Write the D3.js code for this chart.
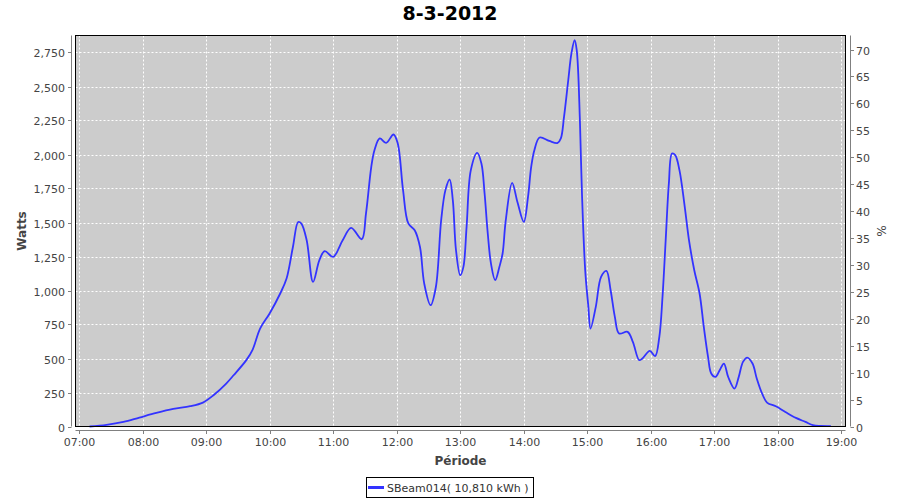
<!DOCTYPE html>
<html><head><meta charset="utf-8">
<script src="https://cdn.jsdelivr.net/npm/d3@7"></script>
<style>body{margin:0;background:#fff}svg{display:block}text{font-family:"DejaVu Sans",sans-serif}</style>
</head><body><svg id="c" width="900" height="500"></svg>
<script>
const title = "8-3-2012";
const seriesName = "SBeam014( 10,810 kWh )";
const times = ["07:10","07:26","07:42","07:57","08:13","08:29","08:45","08:57","09:07","09:19","09:26","09:38","09:44","09:51","10:00","10:10","10:16","10:22","10:27","10:30","10:35","10:41","10:47","10:52","11:00","11:09","11:17","11:27","11:31","11:36","11:39","11:44","11:50","11:57","12:01","12:06","12:11","12:17","12:22","12:26","12:32","12:37","12:42","12:46","12:50","12:53","12:56","13:00","13:03","13:06","13:10","13:16","13:20","13:23","13:26","13:29","13:33","13:37","13:40","13:43","13:49","13:54","14:00","14:04","14:07","14:10","14:15","14:24","14:32","14:35","14:38","14:42","14:45","14:48","14:50","14:53","14:55","14:58","15:01","15:03","15:08","15:13","15:18","15:22","15:26","15:30","15:38","15:43","15:49","15:52","15:59","16:04","16:08","16:11","16:14","16:17","16:20","16:23","16:27","16:32","16:36","16:41","16:46","16:50","16:54","16:57","17:01","17:05","17:09","17:13","17:19","17:23","17:27","17:31","17:36","17:40","17:45","17:50","17:58","18:07","18:17","18:26","18:33","18:40","18:50"];
const watts = [0,12,34,66,100,129,149,176,230,316,377,488,566,720,831,978,1088,1320,1504,1492,1370,1063,1223,1289,1247,1370,1460,1377,1566,1909,2032,2118,2085,2147,2081,1738,1493,1443,1320,1051,892,1026,1517,1738,1816,1664,1296,1112,1174,1468,1885,2012,1934,1713,1419,1199,1076,1174,1272,1517,1791,1651,1504,1688,1909,2032,2125,2100,2085,2118,2276,2546,2743,2840,2767,2252,1700,1150,880,720,880,1100,1144,1002,806,684,696,622,488,500,556,517,659,953,1370,1787,2007,1995,1885,1615,1370,1149,978,732,512,390,365,414,463,365,279,365,475,507,463,353,243,174,149,107,63,34,10,4,3];
const xTickLabels = ["07:00","08:00","09:00","10:00","11:00","12:00","13:00","14:00","15:00","16:00","17:00","18:00","19:00"];
const wattTicks = [0,250,500,750,1000,1250,1500,1750,2000,2250,2500,2750];
const pctTicks = [0,5,10,15,20,25,30,35,40,45,50,55,60,65,70];

const toMin = s => { const [h,m] = s.split(":").map(Number); return h*60+m; };
const data = times.map((t,i)=>({t:toMin(t), w:watts[i]}));

const L=75.5, R=845.5, T=35.5, B=426.5;
const x = d3.scaleLinear().domain([416.7,1143.8]).range([L,R]);
const y = d3.scaleLinear().domain([0,2875]).range([B,T]);
const yp = d3.scaleLinear().domain([0,72.6]).range([B,T]);
const svg = d3.select("#c");
const fmt = d3.format(",");

svg.append("text").attr("x",450).attr("y",20).attr("text-anchor","middle")
  .attr("font-size",19).attr("font-weight","bold").attr("fill","#000").text(title);

svg.append("rect").attr("x",L).attr("y",T).attr("width",R-L).attr("height",B-T).attr("fill","#cccccc");

const grid = svg.append("g").attr("stroke","#fff").attr("stroke-width",1).attr("stroke-dasharray","2,2");
xTickLabels.forEach(s=>{ const px=Math.round(x(toMin(s)))+0.5;
  grid.append("line").attr("x1",px).attr("x2",px).attr("y1",T).attr("y2",B);});
wattTicks.forEach(v=>{ const py=Math.round(y(v))+0.5;
  grid.append("line").attr("x1",L).attr("x2",R).attr("y1",py).attr("y2",py);});

const line = d3.line().x(d=>x(d.t)).y(d=>y(d.w)).curve(d3.curveCatmullRom.alpha(0.5));
svg.append("path").datum(data).attr("d",line).attr("fill","none").attr("stroke","#3333ff").attr("stroke-width",1.8);

svg.append("rect").attr("x",L).attr("y",T).attr("width",R-L).attr("height",B-T).attr("fill","none").attr("stroke","#000");

const axCol="#808080", lblCol="#444";
const la = svg.append("g");
la.append("line").attr("x1",71.5).attr("x2",71.5).attr("y1",T).attr("y2",B).attr("stroke",axCol);
wattTicks.forEach(v=>{ const py=Math.round(y(v))+0.5;
  la.append("line").attr("x1",68).attr("x2",71.5).attr("y1",py).attr("y2",py).attr("stroke",axCol);
  la.append("text").attr("x",65).attr("y",py+4).attr("text-anchor","end").attr("font-size",11).attr("fill",lblCol).text(fmt(v));
});
const ra = svg.append("g");
ra.append("line").attr("x1",850.5).attr("x2",850.5).attr("y1",T).attr("y2",B).attr("stroke",axCol);
pctTicks.forEach(v=>{ const py=Math.round(yp(v))+0.5;
  ra.append("line").attr("x1",850.5).attr("x2",854).attr("y1",py).attr("y2",py).attr("stroke",axCol);
  ra.append("text").attr("x",856).attr("y",py+4).attr("font-size",11).attr("fill",lblCol).text(v);
});
const ba = svg.append("g");
ba.append("line").attr("x1",L).attr("x2",R).attr("y1",430.5).attr("y2",430.5).attr("stroke",axCol);
xTickLabels.forEach(s=>{ const px=Math.round(x(toMin(s)))+0.5;
  ba.append("line").attr("x1",px).attr("x2",px).attr("y1",430.5).attr("y2",434).attr("stroke",axCol);
  ba.append("text").attr("x",px).attr("y",446).attr("text-anchor","middle").attr("font-size",11).attr("fill",lblCol).text(s);
});

svg.append("text").attr("transform","translate(25.5,231) rotate(-90)").attr("text-anchor","middle")
  .attr("font-size",12).attr("font-weight","bold").attr("fill","#444").text("Watts");
svg.append("text").attr("transform","translate(877,231) rotate(90)").attr("text-anchor","middle")
  .attr("font-size",12).attr("fill","#444").text("%");
svg.append("text").attr("x",460.5).attr("y",465).attr("text-anchor","middle")
  .attr("font-size",12).attr("font-weight","bold").attr("fill","#444").text("Période");

const lg = svg.append("g");
lg.append("rect").attr("x",366.5).attr("y",477.5).attr("width",167).attr("height",20).attr("fill","#fff").attr("stroke","#000");
lg.append("line").attr("x1",368).attr("x2",384).attr("y1",487.5).attr("y2",487.5).attr("stroke","#3333ff").attr("stroke-width",3);
lg.append("text").attr("x",387).attr("y",492).attr("font-size",11).attr("fill","#333").text(seriesName);
</script></body></html>
